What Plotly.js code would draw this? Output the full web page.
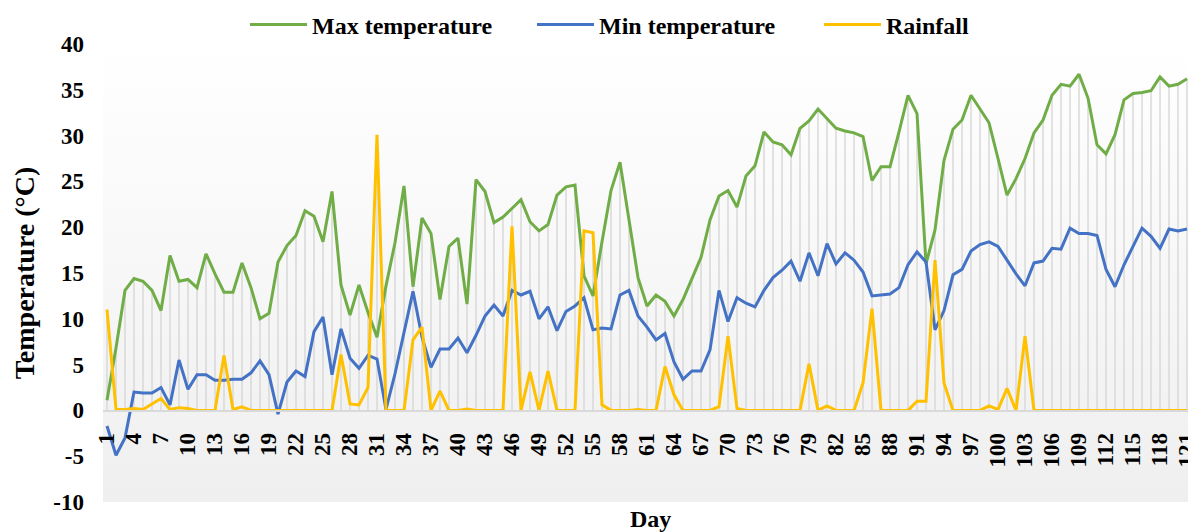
<!DOCTYPE html>
<html>
<head>
<meta charset="utf-8">
<script src="https://cdn.plot.ly/plotly-3.0.1.min.js"></script>
<style>
  html, body { margin: 0; padding: 0; background: #ffffff; }
  #chart { width: 1188px; height: 532px; }
</style>
</head>
<body>
<div id="chart"></div>
<script>
// ---- Data ----
const days = [1,2,3,4,5,6,7,8,9,10,11,12,13,14,15,16,17,18,19,20,
  21,22,23,24,25,26,27,28,29,30,31,32,33,34,35,36,37,38,39,40,
  41,42,43,44,45,46,47,48,49,50,51,52,53,54,55,56,57,58,59,60,
  61,62,63,64,65,66,67,68,69,70,71,72,73,74,75,76,77,78,79,80,
  81,82,83,84,85,86,87,88,89,90,91,92,93,94,95,96,97,98,99,100,
  101,102,103,104,105,106,107,108,109,110,111,112,113,114,115,116,117,118,119,120,121];

const maxTemp = [1.1,6.8,13.1,14.4,14.1,13.1,10.9,16.9,14.1,14.3,
  13.4,17.1,14.9,12.9,12.9,16.1,13.4,10.0,10.6,16.2,
  18.0,19.1,21.8,21.2,18.4,23.9,13.7,10.4,13.7,10.7,
  8.0,13.6,18.3,24.5,13.5,21.0,19.3,12.1,17.9,18.8,
  11.6,25.2,23.9,20.5,21.1,22.0,23.0,20.6,19.6,20.3,
  23.5,24.4,24.6,14.7,12.5,18.4,24.0,27.1,20.8,14.5,
  11.4,12.6,11.9,10.3,12.1,14.5,16.7,20.8,23.4,24.0,
  22.2,25.6,26.7,30.4,29.3,29.0,27.9,30.8,31.6,32.9,
  31.9,30.8,30.5,30.3,29.9,25.1,26.6,26.6,30.4,34.4,
  32.4,16.0,19.7,27.3,30.7,31.7,34.4,32.9,31.4,27.5,
  23.5,25.3,27.5,30.3,31.7,34.4,35.6,35.4,36.7,34.1,
  29.0,28.0,30.1,33.9,34.6,34.7,34.9,36.4,35.4,35.6,36.2];

const minTemp = [-1.7,-4.9,-3.0,2.0,1.9,1.9,2.5,0.6,5.5,2.3,
  3.9,3.9,3.3,3.3,3.4,3.4,4.1,5.4,3.9,-0.4,
  3.1,4.3,3.7,8.6,10.2,3.9,8.9,5.7,4.6,6.0,
  5.6,0.1,4.0,8.6,13.0,8.0,4.7,6.7,6.7,7.9,
  6.3,8.2,10.3,11.5,10.3,13.1,12.6,13.0,10.0,11.3,
  8.7,10.8,11.4,12.3,8.8,9.0,8.9,12.6,13.1,10.3,
  9.1,7.7,8.4,5.3,3.4,4.3,4.3,6.6,13.1,9.7,
  12.3,11.7,11.3,13.1,14.5,15.3,16.3,14.1,17.2,14.7,
  18.2,16.0,17.2,16.4,15.1,12.5,12.6,12.7,13.4,15.9,
  17.3,16.2,8.8,10.9,14.8,15.4,17.4,18.1,18.4,17.9,
  16.4,14.9,13.6,16.1,16.3,17.7,17.6,19.9,19.3,19.3,
  19.1,15.4,13.5,15.9,17.9,19.9,19.0,17.7,19.8,19.6,19.8];

const rainfall = [11.0,0.1,0.1,0.2,0.1,0.7,1.3,0.1,0.3,0.2,
  0,0,0,6.0,0.1,0.4,0,0,0,0,
  0,0,0,0,0,0,6.1,0.7,0.6,2.5,
  30.1,0,0,0,7.7,9.1,0,2.1,0,0,
  0.15,0,0,0,0,20.1,0,4.2,0,4.3,
  0,0,0,19.6,19.4,0.6,0,0,0,0.1,
  0,0,4.8,1.7,0,0,0,0,0.4,8.1,
  0.2,0,0,0,0,0,0,0,5.1,0,
  0.5,0,0,0,3.0,11.1,0,0,0,0,
  1.0,1.0,16.4,3.0,0,0,0,0,0.5,0.1,
  2.4,0,8.1,0,0,0,0,0,0,0,
  0,0,0,0,0,0,0,0,0,0,0];

const tickDays = [1,4,7,10,13,16,19,22,25,28,31,34,37,40,43,46,49,52,55,58,
  61,64,67,70,73,76,79,82,85,88,91,94,97,100,103,106,109,112,115,118,121];
const yTickValues = [-10,-5,0,5,10,15,20,25,30,35,40];
const yTickLabels = ['-10','-5','0','5','10','15','20','25','30','35','40'];

const seriesNames = ['Max temperature','Min temperature','Rainfall'];
const seriesColors = ['#70AD47','#4472C4','#FFC000'];

// ---- Drop lines (from the highest value of each day to the axis) ----
const dropX = [], dropY = [];
days.forEach((d, i) => {
  const top = Math.max(maxTemp[i], minTemp[i], rainfall[i]);
  dropX.push(d, d, null);
  dropY.push(0, top, null);
});

const FONT = 'Liberation Serif, Times New Roman, serif';

const traces = [
  { x: dropX, y: dropY, mode: 'lines', type: 'scatter',
    line: { color: '#d9d9d9', width: 1.5 }, hoverinfo: 'skip', showlegend: false },
  { x: days, y: maxTemp, name: seriesNames[0], mode: 'lines', type: 'scatter',
    line: { color: seriesColors[0], width: 3 } },
  { x: days, y: minTemp, name: seriesNames[1], mode: 'lines', type: 'scatter',
    line: { color: seriesColors[1], width: 3 } },
  { x: days, y: rainfall, name: seriesNames[2], mode: 'lines', type: 'scatter',
    line: { color: seriesColors[2], width: 3 } }
];

const svg = "<svg xmlns='http://www.w3.org/2000/svg' width='10' height='100' preserveAspectRatio='none'>" +
  "<defs><linearGradient id='g' x1='0' y1='0' x2='0' y2='1'>" +
  "<stop offset='0' stop-color='#ffffff'/><stop offset='0.127' stop-color='#fdfdfd'/>" +
  "<stop offset='1' stop-color='#efefef'/></linearGradient></defs>" +
  "<rect width='10' height='100' fill='url(#g)'/></svg>";

const layout = {
  width: 1188, height: 532,
  margin: { l: 103, r: 0, t: 44, b: 30 },
  paper_bgcolor: '#ffffff',
  plot_bgcolor: 'rgba(0,0,0,0)',
  font: { family: FONT, color: '#000000' },
  showlegend: true,
  legend: {
    orientation: 'h', x: 0.1309, xanchor: 'left', y: 1.0415, yanchor: 'middle',
    font: { family: FONT, size: 24, weight: 'bold', color: '#000000' },
    bgcolor: 'rgba(0,0,0,0)', itemwidth: 57, entrywidth: 215, traceorder: 'normal'
  },
  images: [{
    source: 'data:image/svg+xml;charset=utf-8,' + encodeURIComponent(svg),
    xref: 'paper', yref: 'paper', x: 0, y: 1, sizex: 1, sizey: 1,
    xanchor: 'left', yanchor: 'top', sizing: 'stretch', layer: 'below'
  }],
  xaxis: {
    type: 'linear', range: [0.556, 121.11],
    anchor: 'free', position: 0.2,
    tickmode: 'array', tickvals: tickDays, ticktext: tickDays.map(String),
    tickangle: -90, ticks: 'outside', ticklen: 12, tickcolor: 'rgba(0,0,0,0)',
    ticklabeloverflow: 'allow',
    tickfont: { family: FONT, size: 23, weight: 'bold', color: '#000000' },
    showgrid: false, zeroline: false,
    showline: true, linecolor: '#d9d9d9', linewidth: 1.5,
    fixedrange: true
  },
  yaxis: {
    range: [-10, 40],
    tickmode: 'array', tickvals: yTickValues, ticktext: yTickLabels,
    ticks: '', ticklabelstandoff: 18,
    tickfont: { family: FONT, size: 23, weight: 'bold', color: '#000000' },
    showgrid: false, zeroline: false, showline: false,
    title: { text: 'Temperature (°C)', font: { family: FONT, size: 28, weight: 'bold', color: '#000000' }, standoff: 10 },
    fixedrange: true
  },
  annotations: [{
    text: 'Day', xref: 'paper', yref: 'paper', x: 0.505, y: -0.004,
    xanchor: 'center', yanchor: 'top', showarrow: false,
    font: { family: FONT, size: 24, weight: 'bold', color: '#000000' }
  }]
};

Plotly.newPlot('chart', traces, layout, { displayModeBar: false, staticPlot: true });
</script>
</body>
</html>
